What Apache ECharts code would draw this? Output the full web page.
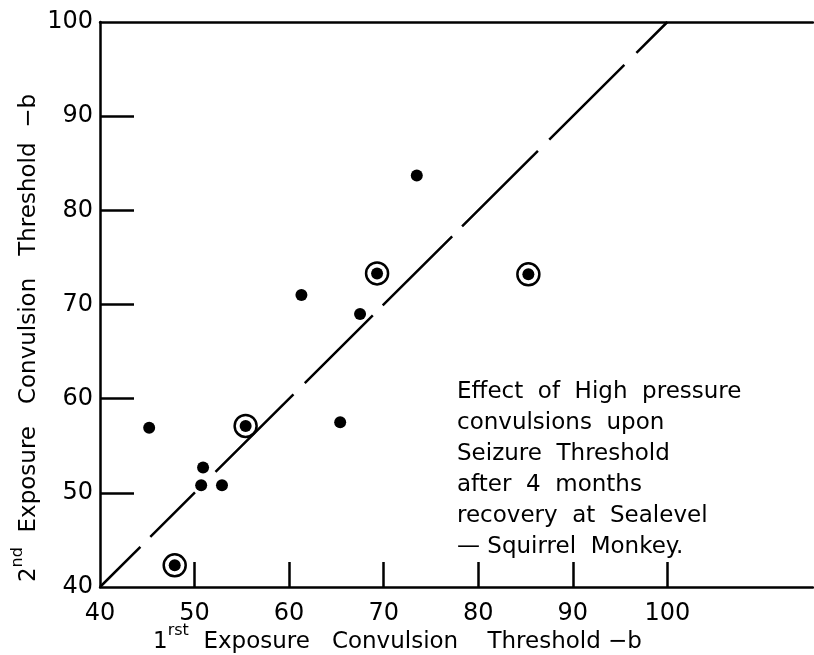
<!DOCTYPE html>
<html><head><meta charset="utf-8">
<script src="https://cdn.jsdelivr.net/npm/echarts@6/dist/echarts.min.js"></script>
<style>html,body{margin:0;padding:0;background:#fff}#c{width:814px;height:655px}</style>
</head><body><div id="c"></div>
<script>
// data
const plainX = [45.2, 50.9, 50.7, 52.9, 61.3, 65.4, 67.5, 73.5];
const plainY = [56.9, 52.7, 50.8, 50.8, 71.0, 57.5, 69.0, 83.7];
const circledX = [47.9, 55.4, 69.3, 85.3];
const circledY = [42.3, 57.1, 73.3, 73.2];
const identityX = [40, 100];
const identityY = [40, 100];
const xTickLabels = [40, 50, 60, 70, 80, 90, 100];
const xTickMarks = [50, 60, 70, 80, 90, 100];
const yTickLabels = [40, 50, 60, 70, 80, 90, 100];
const yTickMarks = [50, 60, 70, 80, 90];
const noteLines = [
  'Effect  of  High  pressure',
  'convulsions  upon',
  'Seizure  Threshold',
  'after  4  months',
  'recovery  at  Sealevel',
  '\u2014 Squirrel  Monkey.'
];
const xTitle = '1{sup|rst}  Exposure   Convulsion    Threshold \u2212b';
const yTitle = '2{sup|nd}  Exposure   Convulsion   Threshold  \u2212b';

const FONT = 'DejaVu Sans';
const zip = (a, b) => a.map((v, i) => [v, b[i]]);

const chart = echarts.init(document.getElementById('c'), null, {renderer: 'canvas'});
const axisLine = {show: true, onZero: false, lineStyle: {color: '#000', width: 2.5}};
chart.setOption({
  animation: false,
  backgroundColor: '#fff',
  grid: {left: 100, top: 22, right: 1, bottom: 68, containLabel: false, outerBoundsMode: 'none'},
  xAxis: [{
    type: 'value', min: 40, max: 115.4, position: 'bottom',
    axisLine: axisLine,
    splitLine: {show: false},
    axisTick: {show: true, inside: true, length: 25, customValues: xTickMarks, lineStyle: {color: '#000', width: 2.5}},
    axisLabel: {customValues: xTickLabels, fontSize: 24, fontFamily: FONT, color: '#000', margin: 15},
    name: xTitle, nameLocation: 'middle', nameGap: 36, nameMoveOverlap: false,
    nameTextStyle: {fontSize: 23, fontFamily: FONT, color: '#000', padding: [0, 118, 0, 0],
      rich: {sup: {fontSize: 16, fontFamily: FONT, color: '#000', padding: [0, 0, 22, 0]}}}
  }, {
    type: 'value', min: 40, max: 115.4, position: 'top',
    axisLine: axisLine, axisTick: {show: false}, axisLabel: {show: false}, splitLine: {show: false}
  }],
  yAxis: [{
    type: 'value', min: 40, max: 100, position: 'left',
    axisLine: axisLine,
    splitLine: {show: false},
    axisTick: {show: true, inside: true, length: 34, customValues: yTickMarks, lineStyle: {color: '#000', width: 2.5}},
    axisLabel: {customValues: yTickLabels, fontSize: 24, fontFamily: FONT, color: '#000', margin: 7},
    name: yTitle, nameLocation: 'middle', nameRotate: 90, nameGap: 52, nameMoveOverlap: false,
    nameTextStyle: {fontSize: 23, fontFamily: FONT, color: '#000', padding: [0, 67, 0, 0],
      rich: {sup: {fontSize: 16, fontFamily: FONT, color: '#000', padding: [0, 0, 22, 0]}}}
  }],
  graphic: [{
    type: 'text', left: 457, top: 377, silent: true,
    style: {text: noteLines.join('\n'), fontSize: 23, fontFamily: FONT, lineHeight: 31, fill: '#000'}
  }],
  series: [{
    type: 'line', data: zip(identityX, identityY), showSymbol: false, silent: true, z: 1,
    lineStyle: {color: '#000', width: 2.5, opacity: 1, type: [57, 14, 63, 29, 110, 16, 96, 14, 98, 14, 107, 16, 106, 17, 80, 20]}
  }, {
    type: 'scatter', data: zip(circledX, circledY), symbol: 'circle', symbolSize: 22, silent: true, z: 2,
    itemStyle: {color: '#fff', borderColor: '#000', borderWidth: 2.5, opacity: 1}
  }, {
    type: 'scatter', data: zip(circledX, circledY), symbol: 'circle', symbolSize: 12, silent: true, z: 3,
    itemStyle: {color: '#000', opacity: 1}
  }, {
    type: 'scatter', data: zip(plainX, plainY), symbol: 'circle', symbolSize: 12, silent: true, z: 3,
    itemStyle: {color: '#000', opacity: 1}
  }]
});
</script></body></html>
